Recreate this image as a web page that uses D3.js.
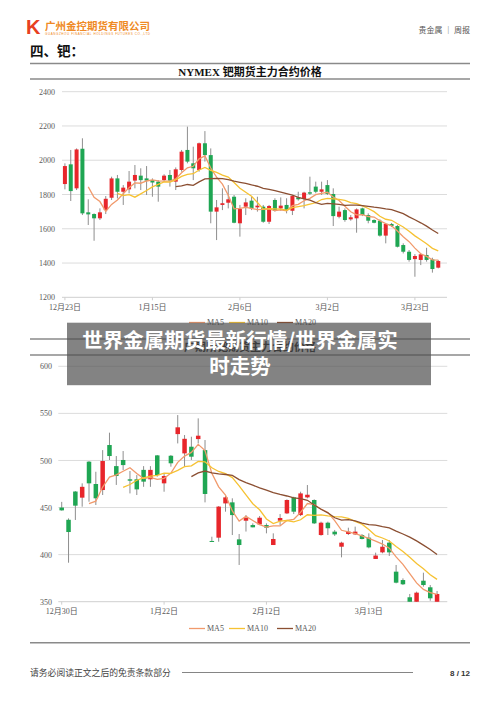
<!DOCTYPE html>
<html><head><meta charset="utf-8">
<script src="https://cdn.jsdelivr.net/npm/d3@7"></script>
<style>
html,body{margin:0;padding:0;background:#fff;}
svg{display:block;}
</style></head>
<body>
<script>
// ---------- Chart 1: NYMEX palladium (OHLC) ----------
const open1  = [1861,1976,1836,2067,1696,1686,1661,1709,1781,1894,1816,1830,1881,1910,1894,1884,1875,1884,1914,1875,1943,2060,1982,1943,2099,2030,1700,1739,1752,1787,1632,1729,1764,1725,1729,1641,1768,1719,1739,1705,1783,1774,1813,1846,1816,1855,1803,1670,1709,1655,1661,1719,1680,1651,1647,1560,1628,1616,1505,1466,1423,1418,1447,1421,1373];
const close1 = [1966,1820,2063,1690,1684,1661,1696,1775,1894,1816,1840,1875,1914,1884,1881,1870,1846,1910,1881,1947,2050,1992,1953,2099,2030,1700,1725,1749,1772,1635,1715,1754,1719,1735,1641,1733,1705,1735,1709,1791,1772,1811,1805,1816,1830,1803,1674,1700,1651,1667,1713,1680,1647,1635,1560,1628,1616,1495,1466,1418,1441,1451,1418,1365,1412];
const high1  = [1982,2060,2069,2128,1772,1690,1719,1791,1904,1914,1855,1937,1972,1953,1966,1894,1884,1918,1943,1958,2060,2196,2079,2103,2170,2069,1768,1836,1855,1797,1739,1778,1787,1787,1739,1739,1778,1783,1778,1797,1816,1816,1904,1875,1875,1884,1836,1729,1719,1680,1719,1723,1690,1655,1655,1632,1634,1622,1515,1476,1452,1456,1489,1431,1418];
const low1   = [1830,1762,1826,1680,1622,1530,1651,1686,1768,1777,1739,1807,1836,1826,1797,1787,1758,1875,1846,1826,1933,1982,1884,1933,1992,1632,1534,1709,1719,1632,1554,1680,1709,1700,1635,1628,1700,1705,1690,1680,1764,1719,1797,1807,1797,1797,1616,1661,1641,1647,1577,1674,1632,1632,1554,1515,1610,1491,1456,1408,1320,1388,1408,1344,1369];
const yTicks1 = [1200,1400,1600,1800,2000,2200,2400];
const xTickLabels1 = ["12月23日","1月15日","2月6日","3月2日","3月23日"];
const xTickIndex1  = [0,15,30,45,60];

// ---------- Chart 2: GFEX palladium (OHLC) ----------
const open2  = [450,437,467,460.5,498.7,475,468.6,516.4,494,500.5,480,480,490,480,505.4,475.7,505,528,507.5,514.6,522.7,511,414.5,418,454.4,455.5,416.2,436,431.4,432.1,431.4,410.2,436,443.8,460.8,442,460.8,458,420.8,433.9,424.4,408.4,421.9,421.5,420.8,418,395.4,402.4,412.7,381.9,373,354.7,349.3,372.3,365.3,349.3];
const close2 = [447,424,452,472,475.7,459.8,499.4,504.7,483.5,495.1,478.5,469.3,477.5,490,484.5,483.5,497,535.2,523,504,526.3,464.4,414,451,460.8,442,410.2,439,429,439.2,428.6,416.6,438.9,458,445.6,465,463.6,433.2,433.9,428,421.5,412.7,424.4,424.4,416.6,407.7,399,408.4,402.4,370.2,368.5,349.3,359.6,367.7,353.6,358.2];
const high2  = [456,438.5,467.5,475.7,499.4,488,511,529.5,504.7,510,488.8,484.5,494,494,505.8,486.3,505.8,548.2,527,525.2,544.7,521.7,419,451.6,462.2,459.8,421.9,442,433.2,441,433.2,422.6,443.1,458.7,461.5,466.8,473.9,458.7,435,435,426.2,413.7,428.6,429.7,421.9,422.6,402.1,415.5,415.5,389,374.8,358.2,360.7,380.8,367.7,361.4];
const low2   = [446.7,391.4,436.8,450.9,456.2,452.7,463.3,500.5,474,489.8,465,463.3,472,472,482.8,466.8,493.4,518.1,493.4,500.5,518.1,455.5,413.8,413.7,445.6,420.8,389,424.5,429,431.4,422.6,410.2,431.4,443.1,443.1,441,459.8,432.5,420.1,420.8,419.8,397.1,420.8,420.8,416.2,406.7,395.4,401.4,398.6,369.5,367.7,349.3,349.3,366,351,349.3];
const yTicks2 = [350,400,450,500,550,600];
const xTickLabels2 = ["12月30日","1月22日","2月12日","3月13日"];
const xTickIndex2  = [0,15,30,45];

const maNames = ["MA5","MA10","MA20"];
const maPeriods = [5,10,20];

// ---------- drawing ----------
const W = 500, H = 707;
const svg = d3.select("body").append("svg").attr("width", W).attr("height", H);
const SERIF = "'Liberation Serif','Noto Sans CJK SC',serif";
const CJK = "'Noto Sans CJK SC','Noto Sans',sans-serif";
const UP = "#e8262b", DOWN = "#1fa653", WICK = "#8e8e8e", GRID = "#dcdcdc";
const maColors = ["#f19a6c","#f6c233","#8b4f32"];

// header
svg.append("text").attr("x", 26).attr("y", 34).attr("font-family","'Liberation Sans',Arial,sans-serif")
  .attr("font-weight","bold").attr("font-size", 20).attr("fill","#e8401f").text("K");
svg.append("text").attr("x", 45).attr("y", 30).attr("font-family", CJK).attr("font-weight","bold")
  .attr("font-size", 10.5).attr("fill","#ef8a25").text("广州金控期货有限公司");
svg.append("text").attr("x", 45).attr("y", 34.5).attr("font-family","'Liberation Sans',sans-serif")
  .attr("font-size", 3).attr("fill","#ef8a25").attr("textLength",105).text("GUANGZHOU FINANCIAL HOLDINGS FUTURES CO.,LTD");
svg.append("text").attr("x", 470).attr("y", 33).attr("text-anchor","end").attr("font-family", CJK)
  .attr("font-size", 8).attr("fill","#555").text("贵金属 ｜ 周报");
svg.append("text").attr("x", 30).attr("y", 56).attr("font-family", CJK).attr("font-weight","bold")
  .attr("font-size", 13.5).attr("fill","#111").text("四、钯：");

function hline(y, x1, x2, color, w){
  svg.append("line").attr("x1",x1).attr("x2",x2).attr("y1",y).attr("y2",y)
    .attr("stroke",color).attr("stroke-width",w);
}
hline(63.5, 30, 470, "#8a8a8a", 1.3);
hline(79, 30, 470, "#8a8a8a", 1.3);
svg.append("text").attr("x", 250).attr("y", 75.5).attr("text-anchor","middle").attr("font-family", SERIF)
  .attr("font-weight","bold").attr("font-size", 11).attr("fill","#111").text("NYMEX 钯期货主力合约价格");

function movingAvg(vals, n){
  return vals.map((v,i)=> i < n-1 ? null : d3.mean(vals.slice(i-n+1, i+1)));
}

function drawChart(cfg){
  const {open, close, high, low, yTicks, tickLabels, tickIndex, x0, x1, yTop, yBot, nSlots, yLabelX, xLabelY, legendY, bodyW, id} = cfg;
  const idx = d3.range(nSlots);
  const x = d3.scaleBand().domain(idx).range([x0, x1]).padding(0);
  const y = d3.scaleLinear().domain([d3.min(yTicks), d3.max(yTicks)]).range([yBot, yTop]);
  const g = svg.append("g");
  // grid
  g.selectAll(".grid").data(yTicks).join("line")
    .attr("x1", x0).attr("x2", x1).attr("y1", d=>y(d)).attr("y2", d=>y(d))
    .attr("stroke", (d,i)=> i===0 ? "#cfcfcf" : GRID).attr("stroke-width", 1);
  // y axis labels
  const yAxis = d3.axisLeft(y).tickValues(yTicks).tickFormat(d3.format("d")).tickSize(0).tickPadding(0);
  const ya = g.append("g").attr("transform", `translate(${yLabelX},0)`).call(yAxis);
  ya.select(".domain").remove();
  ya.selectAll("text").attr("font-family", SERIF).attr("font-size", 8).attr("fill","#595959");
  // x axis labels
  const xAxis = d3.axisBottom(x).tickValues(tickIndex).tickFormat((d)=> tickLabels[tickIndex.indexOf(d)]).tickSize(3).tickPadding(xLabelY - yBot - 3);
  const xa = g.append("g").attr("transform", `translate(0,${yBot})`).call(xAxis);
  xa.select(".domain").remove();
  xa.selectAll("line").attr("stroke","#cfcfcf");
  xa.selectAll("text").attr("font-family", SERIF).attr("font-size", 8).attr("fill","#595959").attr("dy","0.35em");

  // clip
  svg.append("clipPath").attr("id", id).append("rect").attr("x", x0).attr("y", yTop-2).attr("width", x1-x0).attr("height", yBot-yTop+2);
  const pg = g.append("g").attr("clip-path", `url(#${id})`);
  const data = open.map((o,i)=>({i, o, c: close[i], h: high[i], l: low[i]}));
  const cx = d => x(d.i) + x.bandwidth()/2;
  pg.selectAll(".wick").data(data).join("line")
    .attr("x1", cx).attr("x2", cx).attr("y1", d=>y(d.h)).attr("y2", d=>y(d.l))
    .attr("stroke", WICK).attr("stroke-width", 1);
  pg.selectAll(".body").data(data).join("rect")
    .attr("x", d=>cx(d)-bodyW/2).attr("width", bodyW)
    .attr("y", d=>y(Math.max(d.o,d.c)))
    .attr("height", d=>Math.max(1, Math.abs(y(d.o)-y(d.c))))
    .attr("fill", d=> d.c >= d.o ? UP : DOWN);
  // moving averages
  maPeriods.forEach((n,k)=>{
    const m = movingAvg(close, n);
    const line = d3.line().defined(d=>d!=null).x((d,i)=>x(i)+x.bandwidth()/2).y(d=>y(d));
    pg.append("path").datum(m).attr("d", line).attr("fill","none")
      .attr("stroke", maColors[k]).attr("stroke-width", 1.3);
  });
  // legend
  const lx = [189, 229, 277];
  maNames.forEach((nm,k)=>{
    svg.append("line").attr("x1", lx[k]).attr("x2", lx[k]+16).attr("y1", legendY).attr("y2", legendY)
      .attr("stroke", maColors[k]).attr("stroke-width", 1.3);
    svg.append("text").attr("x", lx[k]+18).attr("y", legendY).attr("dy","0.35em")
      .attr("font-family", SERIF).attr("font-size", 8).attr("fill","#595959").text(nm);
  });
}

drawChart({open: open1, close: close1, high: high1, low: low1, yTicks: yTicks1,
  tickLabels: xTickLabels1, tickIndex: xTickIndex1, x0: 62, x1: 447, yTop: 91.7, yBot: 297.3,
  nSlots: 66, yLabelX: 55, xLabelY: 307, legendY: 322.5, bodyW: 4, id: "clip1"});

hline(339, 30, 470, "#8a8a8a", 1.3);
hline(355, 30, 470, "#8a8a8a", 1.3);
svg.append("text").attr("x", 250).attr("y", 351).attr("text-anchor","middle").attr("font-family", CJK)
  .attr("font-weight","bold").attr("font-size", 11).attr("fill","#111").text("广期所钯期货主力合约价格");

drawChart({open: open2, close: close2, high: high2, low: low2, yTicks: yTicks2,
  tickLabels: xTickLabels2, tickIndex: xTickIndex2, x0: 58.3, x1: 447.3, yTop: 366.3, yBot: 601.7,
  nSlots: 57, yLabelX: 52, xLabelY: 611, legendY: 628.5, bodyW: 4.5, id: "clip2"});

hline(642.7, 30, 470, "#8a8a8a", 1.5);

// footer
svg.append("text").attr("x", 30).attr("y", 676).attr("font-family", CJK).attr("font-size", 8.8)
  .attr("fill","#444").text("请务必阅读正文之后的免责条款部分");
hline(672.5, 182, 413, "#777", 0.9);
svg.append("text").attr("x", 470).attr("y", 675.5).attr("text-anchor","end").attr("font-family","'Liberation Sans',Arial,sans-serif")
  .attr("font-weight","bold").attr("font-size", 8).attr("fill","#333").text("8 / 12");

// overlay banner
svg.append("rect").attr("x", 67).attr("y", 322.7).attr("width", 364).attr("height", 62.5)
  .attr("fill","rgba(78,78,78,0.7)");
const bt = svg.append("text").attr("text-anchor","middle").attr("font-family", CJK).attr("font-weight","bold")
  .attr("font-size", 20.5).attr("fill","#fff");
bt.append("tspan").attr("x", 240).attr("y", 348).text("世界金属期货最新行情/世界金属实");
bt.append("tspan").attr("x", 240).attr("y", 374).text("时走势");
</script>
</body></html>
